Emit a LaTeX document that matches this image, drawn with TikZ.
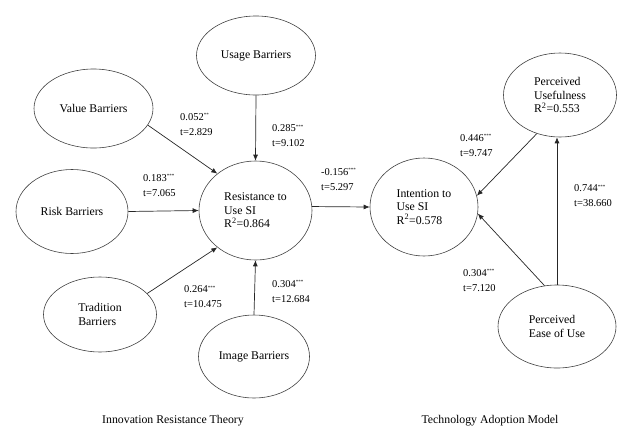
\documentclass[tikz,border=0pt]{standalone}
\usepackage{fontspec}
\setmainfont{Liberation Serif}
\usetikzlibrary{shapes.geometric,arrows.meta}
\newcommand{\sigstars}[1]{\raisebox{0.35em}{\fontsize{5}{5}\selectfont #1}}
\tikzset{
  latent/.style={ellipse, draw=black!75, line width=0.6pt, inner sep=0pt,
    align=left, font=\fontsize{11.8}{13.5}\selectfont},
  coef/.style={anchor=west, align=left, inner sep=0pt,
    font=\fontsize{10.5}{15}\selectfont},
  arr/.style={draw=black!85, line width=0.7pt, -{Latex[length=6pt,width=5pt]}},
  caption/.style={inner sep=0pt, font=\fontsize{11.8}{13.5}\selectfont}
}
\begin{document}
\begin{tikzpicture}[x=1pt,y=-1pt]
\useasboundingbox (0,0) rectangle (624,429);

\node[latent, minimum width=119pt, minimum height=79pt] (usage) at (256,55.5) {Usage Barriers};
\node[latent, minimum width=119pt, minimum height=79pt] (value) at (93.5,108.5) {Value Barriers};
\node[latent, minimum width=112pt, minimum height=84pt] (risk) at (72,211.5) {Risk Barriers};
\node[latent, minimum width=113pt, minimum height=99pt] (res) at (255.5,210.5) {Resistance to\\Use SI\\R\textsuperscript{2}=0.864};
\node[latent, minimum width=113pt, minimum height=75pt] (trad) at (100,314.5) {Tradition\\Barriers};
\node[latent, minimum width=111pt, minimum height=83pt] (image) at (254,356.5) {Image Barriers};
\node[latent, minimum width=108pt, minimum height=98pt] (int) at (424,207) {Intention to\\Use SI\\R\textsuperscript{2}=0.578};
\node[latent, minimum width=113pt, minimum height=84pt] (pu) at (560,95) {Perceived\\Usefulness\\R\textsuperscript{2}=0.553};
\node[latent, minimum width=118pt, minimum height=83pt] (peou) at (557,326.5) {Perceived\\Ease of Use};

\draw[arr] (value.-17) -- (res.136);
\draw[arr] (usage.south) -- (res.north);
\draw[arr] (risk.east) -- (res.west);
\draw[arr] (trad.24) -- (res.224);
\draw[arr] (image.north) -- (res.south);
\draw[arr] (res.4) -- (int.west);
\draw[arr] (pu.239) -- (int.12);
\draw[arr] (peou.107) -- (int.-7);
\draw[arr] (peou.north) -- (peou.north |- pu.south);

\node[coef] (l1) at (180,124.5) {0.052\sigstars{**}\\t=2.829};
\node[coef] (l2) at (272,136) {0.285\sigstars{***}\\t=9.102};
\node[coef] (l3) at (143,185.5) {0.183\sigstars{***}\\t=7.065};
\node[coef] (l4) at (184,297) {0.264\sigstars{***}\\t=10.475};
\node[coef] (l5) at (272,291.5) {0.304\sigstars{***}\\t=12.684};
\node[coef] (l6) at (321,179.5) {-0.156\sigstars{***}\\t=5.297};
\node[coef] (l7) at (460,145.5) {0.446\sigstars{***}\\t=9.747};
\node[coef] (l8) at (574,196) {0.744\sigstars{***}\\t=38.660};
\node[coef] (l9) at (463,280.5) {0.304\sigstars{***}\\t=7.120};

\node[caption] (irt) at (173,421) {Innovation Resistance Theory};
\node[caption] (tam) at (490,421) {Technology Adoption Model};
\end{tikzpicture}
\end{document}
